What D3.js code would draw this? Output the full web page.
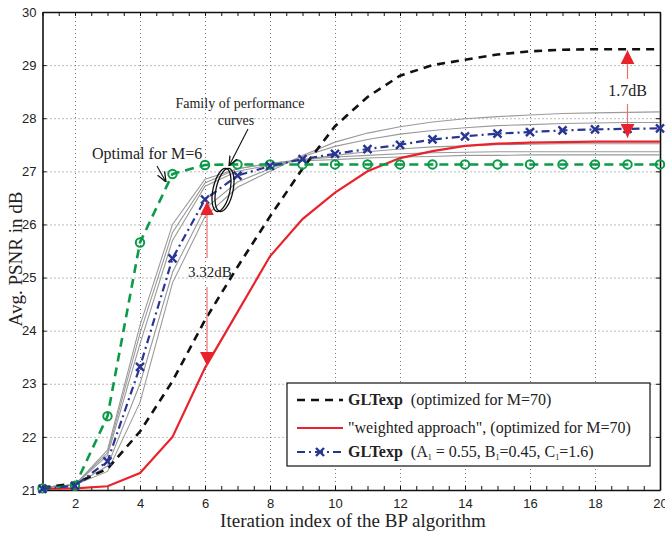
<!DOCTYPE html>
<html>
<head>
<meta charset="utf-8">
<script src="https://cdn.jsdelivr.net/npm/d3@7"></script>
<style>
  body { margin: 0; background: #fff; }
  .tick text { font-family: "Liberation Sans", Arial, sans-serif; font-size: 13px; fill: #222; }
  .ann { font-family: "Liberation Serif", "Times New Roman", serif; font-size: 14px; fill: #222; }
</style>
</head>
<body>
<svg width="665" height="533"></svg>
<script>
// iteration index (x)
var iterations = [1, 2, 3, 4, 5, 6, 7, 8, 9, 10, 11, 12, 13, 14, 15, 16, 17, 18, 19, 20];

// GLTexp (optimized for M=70)
var gltexpM70 = [21.05, 21.12, 21.4, 22.1, 23.05, 24.2, 25.2, 26.15, 27.05, 27.85, 28.4, 28.8, 29.0, 29.1, 29.2, 29.26, 29.29, 29.3, 29.3, 29.3];
// "weighted approach" (optimized for M=70)
var weighted = [21.02, 21.03, 21.07, 21.32, 22.0, 23.3, 24.35, 25.4, 26.1, 26.6, 27.0, 27.25, 27.38, 27.48, 27.52, 27.54, 27.55, 27.56, 27.56, 27.56];
// GLTexp (A1 = 0.55, B1 = 0.45, C1 = 1.6)
var gltexpA = [21.02, 21.08, 21.54, 23.32, 25.36, 26.47, 26.92, 27.1, 27.23, 27.33, 27.42, 27.5, 27.6, 27.66, 27.71, 27.74, 27.77, 27.79, 27.8, 27.81];
// optimal for M=6
var optimalM6 = [21.03, 21.08, 22.39, 25.66, 26.95, 27.12, 27.13, 27.13, 27.13, 27.13, 27.13, 27.13, 27.13, 27.13, 27.13, 27.13, 27.13, 27.13, 27.13, 27.13];

// family of performance curves (gray)
var family1 = [21.05, 21.1, 21.75, 24.1, 26.0, 26.85, 27.05, 27.15, 27.2, 27.22, 27.25, 27.27, 27.28, 27.3, 27.3, 27.31, 27.31, 27.31, 27.31, 27.31];
var family2 = [21.05, 21.1, 21.7, 23.95, 25.85, 26.78, 27.05, 27.15, 27.22, 27.27, 27.3, 27.33, 27.35, 27.36, 27.37, 27.37, 27.37, 27.37, 27.37, 27.37];
var family3 = [21.05, 21.1, 21.65, 23.75, 25.7, 26.72, 27.0, 27.12, 27.22, 27.3, 27.37, 27.42, 27.46, 27.48, 27.5, 27.51, 27.52, 27.52, 27.52, 27.52];
var family4 = [21.05, 21.1, 21.45, 23.0, 25.1, 26.3, 26.8, 27.05, 27.28, 27.47, 27.6, 27.7, 27.77, 27.82, 27.86, 27.88, 27.9, 27.91, 27.92, 27.92];
var family5 = [21.05, 21.1, 21.35, 22.65, 24.9, 26.15, 26.7, 27.0, 27.3, 27.55, 27.72, 27.84, 27.93, 27.99, 28.03, 28.06, 28.09, 28.1, 28.11, 28.12];

var xTicks = [2, 4, 6, 8, 10, 12, 14, 16, 18, 20];
var yTicks = [21, 22, 23, 24, 25, 26, 27, 28, 29, 30];

var svg = d3.select("svg"),
    pLeft = 42.5, pRight = 660, pTop = 12, pBottom = 490;

var x = d3.scaleLinear().domain([1, 20]).range([pLeft, pRight]),
    y = d3.scaleLinear().domain([21, 30]).range([pBottom, pTop]);

var defs = svg.append("defs");
defs.append("marker").attr("id", "openArrow")
    .attr("viewBox", "0 0 10 10").attr("refX", 10).attr("refY", 5)
    .attr("markerWidth", 10).attr("markerHeight", 10).attr("markerUnits", "userSpaceOnUse")
    .attr("orient", "auto")
  .append("path").attr("d", "M0,1 L10,5 L0,9").attr("fill", "none").attr("stroke", "#111").attr("stroke-width", 1.3);
defs.append("marker").attr("id", "redHead")
    .attr("viewBox", "0 0 10 10").attr("refX", 10).attr("refY", 5)
    .attr("markerWidth", 14).attr("markerHeight", 14).attr("markerUnits", "userSpaceOnUse")
    .attr("orient", "auto")
  .append("path").attr("d", "M0,0 L10,5 L0,10 Z").attr("fill", "#e8232b");

// grid
var grid = svg.append("g").attr("class", "grid");
grid.append("g").attr("transform", `translate(0,${pBottom})`)
    .call(d3.axisBottom(x).tickValues(xTicks.slice(0, -1)).tickSize(-(pBottom - pTop)).tickFormat(""));
grid.append("g").attr("transform", `translate(${pLeft},0)`)
    .call(d3.axisLeft(y).tickValues(yTicks.slice(1, -1)).tickSize(-(pRight - pLeft)).tickFormat(""));
grid.selectAll(".domain").remove();
grid.selectAll("line").attr("stroke", "#777").attr("stroke-dasharray", "1,3").attr("stroke-width", 1);

// axes
var minorX = [];
for (var i = 0; i < iterations.length - 1; i++) { minorX.push(iterations[i]); minorX.push(iterations[i] + 0.5); }
minorX.push(20);

svg.append("g").attr("transform", `translate(0,${pBottom})`)
    .call(d3.axisBottom(x).tickValues(minorX).tickSizeInner(-4).tickSizeOuter(0).tickPadding(9)
        .tickFormat(function(d) { return xTicks.indexOf(d) >= 0 ? d : ""; }));
svg.append("g").attr("transform", `translate(0,${pTop})`)
    .call(d3.axisTop(x).tickValues(minorX).tickSizeInner(-4).tickSizeOuter(0).tickFormat(""));
svg.append("g").attr("transform", `translate(${pLeft},0)`)
    .call(d3.axisLeft(y).tickValues(yTicks).tickSizeInner(-4).tickSizeOuter(0).tickPadding(6));
svg.append("g").attr("transform", `translate(${pRight},0)`)
    .call(d3.axisRight(y).tickValues(yTicks).tickSizeInner(-4).tickSizeOuter(0).tickFormat(""));
svg.selectAll(".domain").attr("stroke", "#111").attr("stroke-width", 1.6);
svg.selectAll(".tick line").filter(function() { return !this.closest(".grid"); }).attr("stroke", "#111");

// axis labels
svg.append("text").attr("class", "ann")
    .attr("x", 353).attr("y", 527).attr("text-anchor", "middle")
    .style("font-size", "19px").text("Iteration index of the BP algorithm");
svg.append("text").attr("class", "ann")
    .attr("transform", "translate(22,259) rotate(-90)").attr("text-anchor", "middle")
    .style("font-size", "19px").text("Avg. PSNR in dB");

var line = d3.line().x(function(d) { return x(d[0]); }).y(function(d) { return y(d[1]); });
function pts(vals) { return iterations.map(function(it, i) { return [it, vals[i]]; }); }

// gray family
[family1, family2, family3, family4, family5].forEach(function(s) {
    svg.append("path").attr("d", line(pts(s)))
        .attr("fill", "none").attr("stroke", "#9a9a9a").attr("stroke-width", 1.1);
});

// black dashed
svg.append("path").attr("d", line(pts(gltexpM70)))
    .attr("fill", "none").attr("stroke", "#111").attr("stroke-width", 2.6).attr("stroke-dasharray", "8,6");
// red solid
svg.append("path").attr("d", line(pts(weighted)))
    .attr("fill", "none").attr("stroke", "#e8232b").attr("stroke-width", 2.2);
// green dashed with circles
svg.append("path").attr("d", line(pts(optimalM6)))
    .attr("fill", "none").attr("stroke", "#0a9a48").attr("stroke-width", 2.6).attr("stroke-dasharray", "9,6");
svg.selectAll(".gcirc").data(pts(optimalM6)).enter().append("circle")
    .attr("cx", function(d) { return x(d[0]); }).attr("cy", function(d) { return y(d[1]); })
    .attr("r", 4.2).attr("fill", "none").attr("stroke", "#0a9a48").attr("stroke-width", 2);
// blue dash-dot with x markers
svg.append("path").attr("d", line(pts(gltexpA)))
    .attr("fill", "none").attr("stroke", "#283593").attr("stroke-width", 2.2).attr("stroke-dasharray", "8,4,2,4");
svg.selectAll(".bx").data(pts(gltexpA)).enter().append("path")
    .attr("d", function(d) { var cx = x(d[0]), cy = y(d[1]), s = 4;
        return `M${cx - s},${cy - s}L${cx + s},${cy + s}M${cx - s},${cy + s}L${cx + s},${cy - s}`; })
    .attr("stroke", "#283593").attr("stroke-width", 2.4).attr("fill", "none");

// annotations
svg.append("text").attr("class", "ann").attr("x", 92).attr("y", 159).style("font-size", "16px").text("Optimal for M=6");
svg.append("line").attr("x1", 157).attr("y1", 166).attr("x2", 166).attr("y2", 182)
    .attr("stroke", "#111").attr("stroke-width", 1.1).attr("marker-end", "url(#openArrow)");

svg.append("text").attr("class", "ann").attr("x", 240).attr("y", 108).attr("text-anchor", "middle")
    .style("font-size", "14px").text("Family of performance");
svg.append("text").attr("class", "ann").attr("x", 236).attr("y", 125).attr("text-anchor", "middle")
    .style("font-size", "14px").text("curves");
svg.append("line").attr("x1", 248).attr("y1", 129).attr("x2", 229).attr("y2", 166)
    .attr("stroke", "#111").attr("stroke-width", 1.1).attr("marker-end", "url(#openArrow)");

[[221.5, 190], [224.5, 190]].forEach(function(c) {
    svg.append("ellipse").attr("cx", c[0]).attr("cy", c[1]).attr("rx", 8.5).attr("ry", 22)
        .attr("transform", `rotate(12,${c[0]},${c[1]})`)
        .attr("fill", "none").attr("stroke", "#111").attr("stroke-width", 1.3);
});

// 3.32dB arrow
var ax1 = x(6) + 2;
svg.append("line").attr("x1", ax1).attr("y1", 258).attr("x2", ax1).attr("y2", y(gltexpA[5]) + 2)
    .attr("stroke", "#f07070").attr("stroke-width", 1.2).attr("marker-end", "url(#redHead)");
svg.append("line").attr("x1", ax1).attr("y1", 287).attr("x2", ax1).attr("y2", y(weighted[5]) - 2)
    .attr("stroke", "#f07070").attr("stroke-width", 1.2).attr("marker-end", "url(#redHead)");
svg.append("text").attr("class", "ann").attr("x", ax1 + 3).attr("y", 277).attr("text-anchor", "middle")
    .style("font-size", "15px").text("3.32dB");

// 1.7dB arrow
var ax2 = x(19);
svg.append("line").attr("x1", ax2).attr("y1", 79).attr("x2", ax2).attr("y2", y(gltexpM70[18]) + 1)
    .attr("stroke", "#f07070").attr("stroke-width", 1.2).attr("marker-end", "url(#redHead)");
svg.append("line").attr("x1", ax2).attr("y1", 104).attr("x2", ax2).attr("y2", y(gltexpA[18]) + 9)
    .attr("stroke", "#f07070").attr("stroke-width", 1.2).attr("marker-end", "url(#redHead)");
svg.append("text").attr("class", "ann").attr("x", ax2).attr("y", 96).attr("text-anchor", "middle")
    .style("font-size", "16px").text("1.7dB");

// legend
var lg = svg.append("g").attr("transform", "translate(287,383)");
lg.append("rect").attr("width", 363).attr("height", 83).attr("fill", "#fff").attr("stroke", "#111").attr("stroke-width", 1.2);
var rows = [
    {y: 17, color: "#111", dash: "8,6", w: 2.6},
    {y: 45, color: "#e8232b", dash: null, w: 2.2},
    {y: 69, color: "#283593", dash: "8,4,2,4", w: 2.2}
];
rows.forEach(function(r) {
    lg.append("line").attr("x1", 10).attr("x2", 56).attr("y1", r.y).attr("y2", r.y)
        .attr("stroke", r.color).attr("stroke-width", r.w).attr("stroke-dasharray", r.dash);
});
lg.append("path").attr("d", "M29,65L37,73M29,73L37,65").attr("stroke", "#283593").attr("stroke-width", 2.4);

var t1 = lg.append("text").attr("class", "ann").attr("x", 61).attr("y", 22).style("font-size", "16px");
t1.append("tspan").style("font-weight", "bold").text("GLTexp");
t1.append("tspan").attr("dx", 8).text("(optimized for M=70)");
lg.append("text").attr("class", "ann").attr("x", 61).attr("y", 50).style("font-size", "16px")
    .text("\"weighted approach\", (optimized for M=70)");
var t3 = lg.append("text").attr("class", "ann").attr("x", 61).attr("y", 74).style("font-size", "16px");
t3.append("tspan").style("font-weight", "bold").text("GLTexp");
t3.append("tspan").attr("dx", 8).text("(A");
t3.append("tspan").attr("dy", 3).style("font-size", "8px").text("1");
t3.append("tspan").attr("dy", -3).text(" = 0.55, B");
t3.append("tspan").attr("dy", 3).style("font-size", "8px").text("1");
t3.append("tspan").attr("dy", -3).text("=0.45, C");
t3.append("tspan").attr("dy", 3).style("font-size", "8px").text("1");
t3.append("tspan").attr("dy", -3).text("=1.6)");
</script>
</body>
</html>
